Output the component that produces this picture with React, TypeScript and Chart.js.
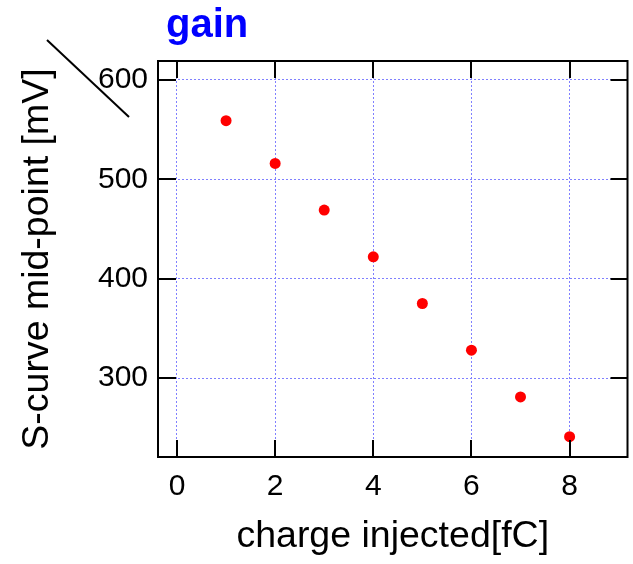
import React, { useEffect, useRef } from 'react';
import { Chart, registerables } from 'chart.js';

Chart.register(...registerables);

const chargeInjected = [1, 2, 3, 4, 5, 6, 7, 8];
const midPoint = [559, 516, 469, 422, 375, 328, 281, 241];
const xTickValues = [0, 2, 4, 6, 8];
const yTickValues = [300, 400, 500, 600];
const titleText = 'gain';
const xTitle = 'charge injected[fC]';
const yTitle = 'S-curve mid-point [mV]';
const X_MIN = -0.387;
const X_MAX = 9.18;
const Y_MIN = 220.5;
const Y_MAX = 619.1;

const FONT = '"Liberation Sans", Arial, Helvetica, sans-serif';

const framePlugin = {
  id: 'rootFrame',
  afterDraw(chart: any) {
    const { ctx, chartArea: a, scales } = chart;
    ctx.save();
    ctx.strokeStyle = '#000';
    ctx.lineWidth = 2;
    ctx.strokeRect(a.left, a.top, a.right - a.left, a.bottom - a.top);
    const tl = 17;
    ctx.beginPath();
    scales.x.ticks.forEach((t: any) => {
      const px = Math.round(scales.x.getPixelForValue(t.value));
      ctx.moveTo(px, a.bottom);
      ctx.lineTo(px, a.bottom - tl);
      ctx.moveTo(px, a.top);
      ctx.lineTo(px, a.top + tl);
    });
    scales.y.ticks.forEach((t: any) => {
      const py = Math.round(scales.y.getPixelForValue(t.value));
      ctx.moveTo(a.left, py);
      ctx.lineTo(a.left + tl + 1, py);
      ctx.moveTo(a.right, py);
      ctx.lineTo(a.right - tl, py);
    });
    ctx.stroke();
    // decorative diagonal stroke at top-left
    ctx.beginPath();
    ctx.moveTo(a.left - 111, a.top - 21);
    ctx.lineTo(a.left - 29, a.top + 56);
    ctx.stroke();
    // title
    ctx.fillStyle = '#0000ff';
    ctx.font = 'bold 40px ' + FONT;
    ctx.textBaseline = 'alphabetic';
    ctx.textAlign = 'left';
    ctx.fillText(titleText, a.left + 8, 37);
    ctx.restore();
  },
};

export default function App() {
  const ref = useRef<HTMLCanvasElement | null>(null);
  useEffect(() => {
    if (!ref.current) return;
    const chart = new Chart(ref.current, {
      type: 'scatter',
      data: {
        datasets: [
          {
            label: 'gain',
            data: chargeInjected.map((x, i) => ({ x, y: midPoint[i] })),
            backgroundColor: '#ff0000',
            borderColor: '#ff0000',
            borderWidth: 0,
            pointRadius: 5.5,
            pointHoverRadius: 5.5,
          },
        ],
      },
      options: {
        animation: false,
        responsive: false,
        devicePixelRatio: 1,
        layout: { padding: { left: 0, top: 61, right: 5, bottom: 0 } },
        plugins: {
          legend: { display: false },
          title: { display: false },
          tooltip: { enabled: false },
        },
        scales: {
          x: {
            type: 'linear',
            min: X_MIN,
            max: X_MAX,
            afterBuildTicks: (s: any) => {
              s.ticks = xTickValues.map((v) => ({ value: v }));
            },
            afterFit: (s: any) => {
              s.height = 107;
            },
            ticks: {
              color: '#000',
              font: { family: FONT, size: 30 },
              padding: 12,
              maxRotation: 0,
              autoSkip: false,
            },
            grid: {
              color: '#8080ff',
              lineWidth: 1,
              drawTicks: false,
            },
            border: { display: false, dash: [2, 2] },
            title: {
              display: true,
              text: xTitle,
              color: '#000',
              font: { family: FONT, size: 37.5 },
              padding: { top: 0, bottom: 5 },
            },
          },
          y: {
            type: 'linear',
            min: Y_MIN,
            max: Y_MAX,
            afterBuildTicks: (s: any) => {
              s.ticks = yTickValues.map((v) => ({ value: v }));
            },
            afterFit: (s: any) => {
              s.width = 158;
            },
            ticks: {
              color: '#000',
              font: { family: FONT, size: 30 },
              padding: 10,
              autoSkip: false,
            },
            grid: {
              color: '#8080ff',
              lineWidth: 1,
              drawTicks: false,
            },
            border: { display: false, dash: [2, 2] },
            title: {
              display: true,
              text: yTitle,
              color: '#000',
              font: { family: FONT, size: 37.5 },
              padding: { top: 15, bottom: 0 },
            },
          },
        },
      },
      plugins: [framePlugin],
    } as any);
    return () => chart.destroy();
  }, []);
  return (
    <div style={{ position: 'fixed', left: 0, top: 0, width: 633, height: 564, background: '#fff' }}>
      <canvas ref={ref} width={633} height={564} style={{ display: 'block' }} />
    </div>
  );
}
